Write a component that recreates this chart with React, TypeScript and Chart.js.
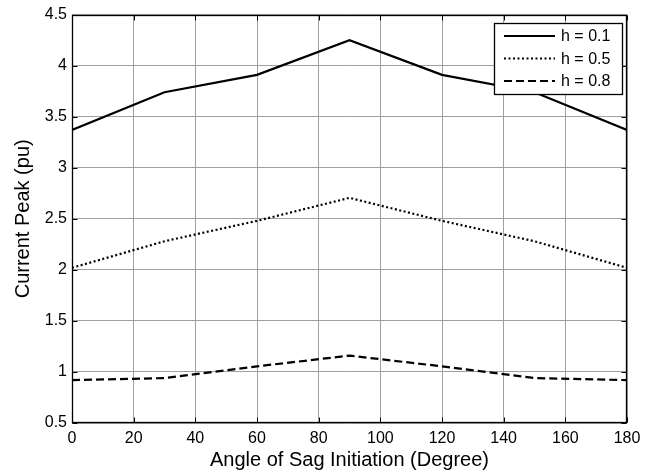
import React, { useEffect, useRef } from "react";
import { Chart, registerables } from "chart.js";

Chart.register(...registerables);

const angles = [0, 30, 60, 90, 120, 150, 180];
const peakH01 = [3.37, 3.74, 3.91, 4.25, 3.91, 3.74, 3.37];
const peakH05 = [2.02, 2.28, 2.48, 2.705, 2.48, 2.28, 2.02];
const peakH08 = [0.92, 0.94, 1.055, 1.16, 1.055, 0.94, 0.92];
const seriesLabels = ["h = 0.1", "h = 0.5", "h = 0.8"];
const xTitle = "Angle of Sag Initiation (Degree)";
const yTitle = "Current Peak (pu)";

const FONT = "'Liberation Sans', Arial, sans-serif";

const framePlugin = {
  id: "frame",
  afterDraw(chart: any) {
    const { ctx, chartArea: a, scales } = chart;
    ctx.save();
    ctx.strokeStyle = "#000";
    ctx.lineWidth = 1.3;
    const L = Math.round(a.left) + 0.5;
    const T = Math.round(a.top) + 0.5;
    const R = Math.round(a.right) - 0.5;
    const B = Math.round(a.bottom) - 0.5;
    ctx.strokeRect(L, T, R - L, B - T);
    ctx.lineWidth = 1;
    const len = 5;
    ctx.beginPath();
    scales.x.ticks.forEach((t: any) => {
      const px = Math.round(scales.x.getPixelForValue(t.value)) + 0.5;
      ctx.moveTo(px, B);
      ctx.lineTo(px, B - len);
      ctx.moveTo(px, T);
      ctx.lineTo(px, T + len);
    });
    scales.y.ticks.forEach((t: any) => {
      const py = Math.round(scales.y.getPixelForValue(t.value)) + 0.5;
      ctx.moveTo(L, py);
      ctx.lineTo(L + len, py);
      ctx.moveTo(R, py);
      ctx.lineTo(R - len, py);
    });
    ctx.stroke();

    // legend
    const bx = 494.5, by = 23.5, bw = 128, bh = 71;
    ctx.fillStyle = "#fff";
    ctx.fillRect(bx, by, bw, bh);
    ctx.lineWidth = 1.3;
    ctx.strokeRect(bx, by, bw, bh);
    const rows = [36, 58.5, 81];
    chart.data.datasets.forEach((ds: any, i: number) => {
      const y = rows[i];
      ctx.save();
      ctx.strokeStyle = ds.borderColor;
      ctx.lineWidth = ds.borderWidth;
      ctx.setLineDash(ds.borderDash || []);
      ctx.beginPath();
      ctx.moveTo(504, y);
      ctx.lineTo(555, y);
      ctx.stroke();
      ctx.restore();
      ctx.fillStyle = "#000";
      ctx.font = `16px ${FONT}`;
      ctx.textBaseline = "middle";
      ctx.textAlign = "left";
      ctx.fillText(ds.label, 561, y + 1);
    });
    ctx.restore();
  },
};

export default function App() {
  const ref = useRef<HTMLCanvasElement>(null);
  useEffect(() => {
    if (!ref.current) return;
    const mk = (vals: number[]) => angles.map((x, i) => ({ x, y: vals[i] }));
    const chart = new Chart(ref.current, {
      type: "line",
      data: {
        datasets: [
          { label: seriesLabels[0], data: mk(peakH01), borderColor: "#000", borderWidth: 2.2, borderDash: [], pointRadius: 0, tension: 0, fill: false },
          { label: seriesLabels[1], data: mk(peakH05), borderColor: "#000", borderWidth: 2.2, borderDash: [2, 2.5], pointRadius: 0, tension: 0, fill: false },
          { label: seriesLabels[2], data: mk(peakH08), borderColor: "#000", borderWidth: 2.2, borderDash: [8, 4], pointRadius: 0, tension: 0, fill: false },
        ],
      },
      options: {
        responsive: false,
        animation: false,
        devicePixelRatio: 1,
        layout: { padding: { top: 13, right: 28, left: 0, bottom: 0 } },
        plugins: { legend: { display: false }, tooltip: { enabled: false } },
        scales: {
          x: {
            type: "linear",
            min: 0,
            max: 180,
            afterFit: (s: any) => { s.height = 50; },
            ticks: { stepSize: 20, color: "#000", padding: 6, font: { family: FONT, size: 16 }, maxRotation: 0, callback: (v: any) => String(v) },
            grid: { color: "#a0a0a0", lineWidth: 1, drawTicks: false },
            border: { display: false },
            title: { display: true, text: xTitle, color: "#000", font: { family: FONT, size: 20 }, padding: { top: 0, bottom: 1 } },
          },
          y: {
            type: "linear",
            min: 0.5,
            max: 4.5,
            afterFit: (s: any) => { s.width = 72; },
            ticks: { stepSize: 0.5, color: "#000", padding: 5, font: { family: FONT, size: 16 }, callback: (v: any) => String(v) },
            grid: { color: "#a0a0a0", lineWidth: 1, drawTicks: false },
            border: { display: false },
            title: { display: true, text: yTitle, color: "#000", font: { family: FONT, size: 20 }, padding: { top: 11, bottom: 0 } },
          },
        },
      },
      plugins: [framePlugin],
    });
    return () => chart.destroy();
  }, []);
  return (
    <canvas
      ref={ref}
      width={655}
      height={473}
      style={{ position: "fixed", left: 0, top: 0, width: 655, height: 473, background: "#fff" }}
    />
  );
}
